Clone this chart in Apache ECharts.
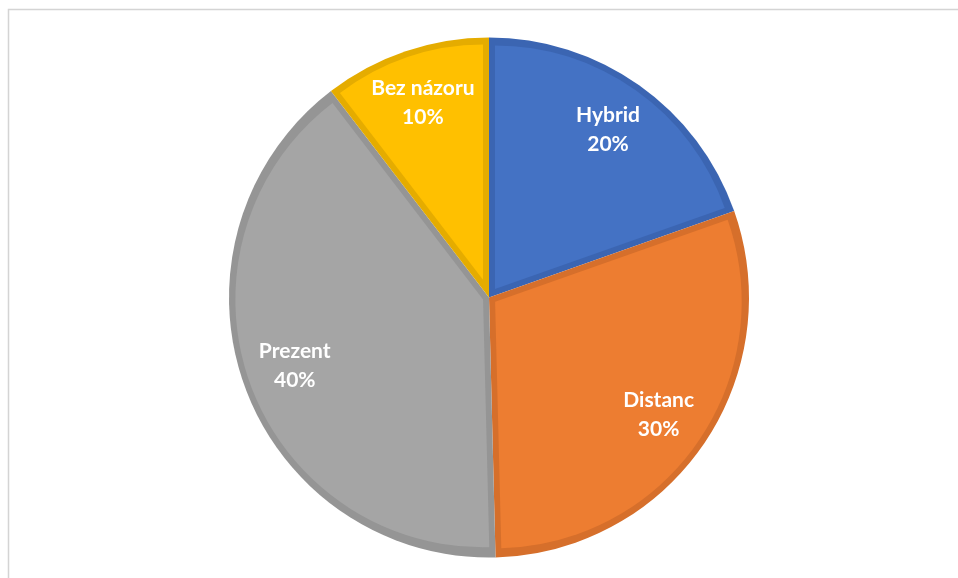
<!DOCTYPE html>
<html>
<head>
<meta charset="utf-8">
<script src="https://cdn.jsdelivr.net/npm/echarts@6/dist/echarts.min.js"></script>
<style>
html,body{margin:0;padding:0;background:#fff;}
#chart{width:958px;height:578px;}
</style>
</head>
<body>
<div id="chart"></div>
<script>
// Data (slice angles), labels shown as rounded percentages
var categories = ['Hybrid', 'Distanc', 'Prezent', 'Bez názoru'];
var values = [19.6, 30, 40, 10.4];
var fillColors = ['#4472C4', '#ED7D31', '#A5A5A5', '#FFC000'];
var borderColors = ['#3B65B2', '#D66F2B', '#959595', '#E5AC00'];

var chart = echarts.init(document.getElementById('chart'));

var CX = 489, CY = 297.5, R = 260, D = 6;

var total = values.reduce(function (a, b) { return a + b; }, 0);

function baseData(styleFn) {
  return categories.map(function (c, i) {
    return { name: c, value: values[i], itemStyle: styleFn(i) };
  });
}

var series = [];

// Bottom: full pie in darker (border) shades
series.push({
  type: 'pie',
  center: [CX, CY],
  radius: [0, R],
  startAngle: 90,
  clockwise: true,
  silent: true,
  animation: false,
  label: { show: false },
  labelLine: { show: false },
  data: baseData(function (i) { return { color: borderColors[i], borderWidth: 0 }; })
});

// Inset fills: one series per slice, slightly shifted inward so a dark band remains on every edge
var cum = 0;
categories.forEach(function (c, k) {
  var theta = values[k] / total * 2 * Math.PI;
  var mid = cum + theta / 2;
  cum += theta;
  var s = D / Math.sin(theta / 2);
  series.push({
    type: 'pie',
    center: [CX + s * Math.sin(mid), CY - s * Math.cos(mid)],
    radius: [0, R - D - s],
    startAngle: 90,
    clockwise: true,
    silent: true,
    animation: false,
    label: { show: false },
    labelLine: { show: false },
    data: baseData(function (i) {
      return i === k ? { color: fillColors[i], borderWidth: 0 } : { color: 'rgba(0,0,0,0)', borderWidth: 0 };
    })
  });
});

// Label carrier: transparent ring so inside labels sit at ~0.78 R
series.push({
  type: 'pie',
  center: [CX, CY],
  radius: [146, R],
  startAngle: 90,
  clockwise: true,
  silent: true,
  animation: false,
  percentPrecision: 0,
  label: {
    show: true,
    position: 'inside',
    formatter: '{b}\n{d}%',
    color: '#ffffff',
    fontFamily: 'Lato, "Open Sans", sans-serif',
    fontWeight: 'bold',
    fontSize: 21,
    lineHeight: 29,
    align: 'center'
  },
  labelLine: { show: false },
  data: baseData(function () { return { color: 'rgba(0,0,0,0)', borderWidth: 0 }; })
});

chart.setOption({
  backgroundColor: '#ffffff',
  animation: false,
  graphic: [{
    type: 'rect',
    silent: true,
    shape: { x: 8.5, y: 9.5, width: 1000, height: 700 },
    style: { fill: 'none', stroke: '#d4d4d4', lineWidth: 1.5 }
  }],
  series: series
});
</script>
</body>
</html>
